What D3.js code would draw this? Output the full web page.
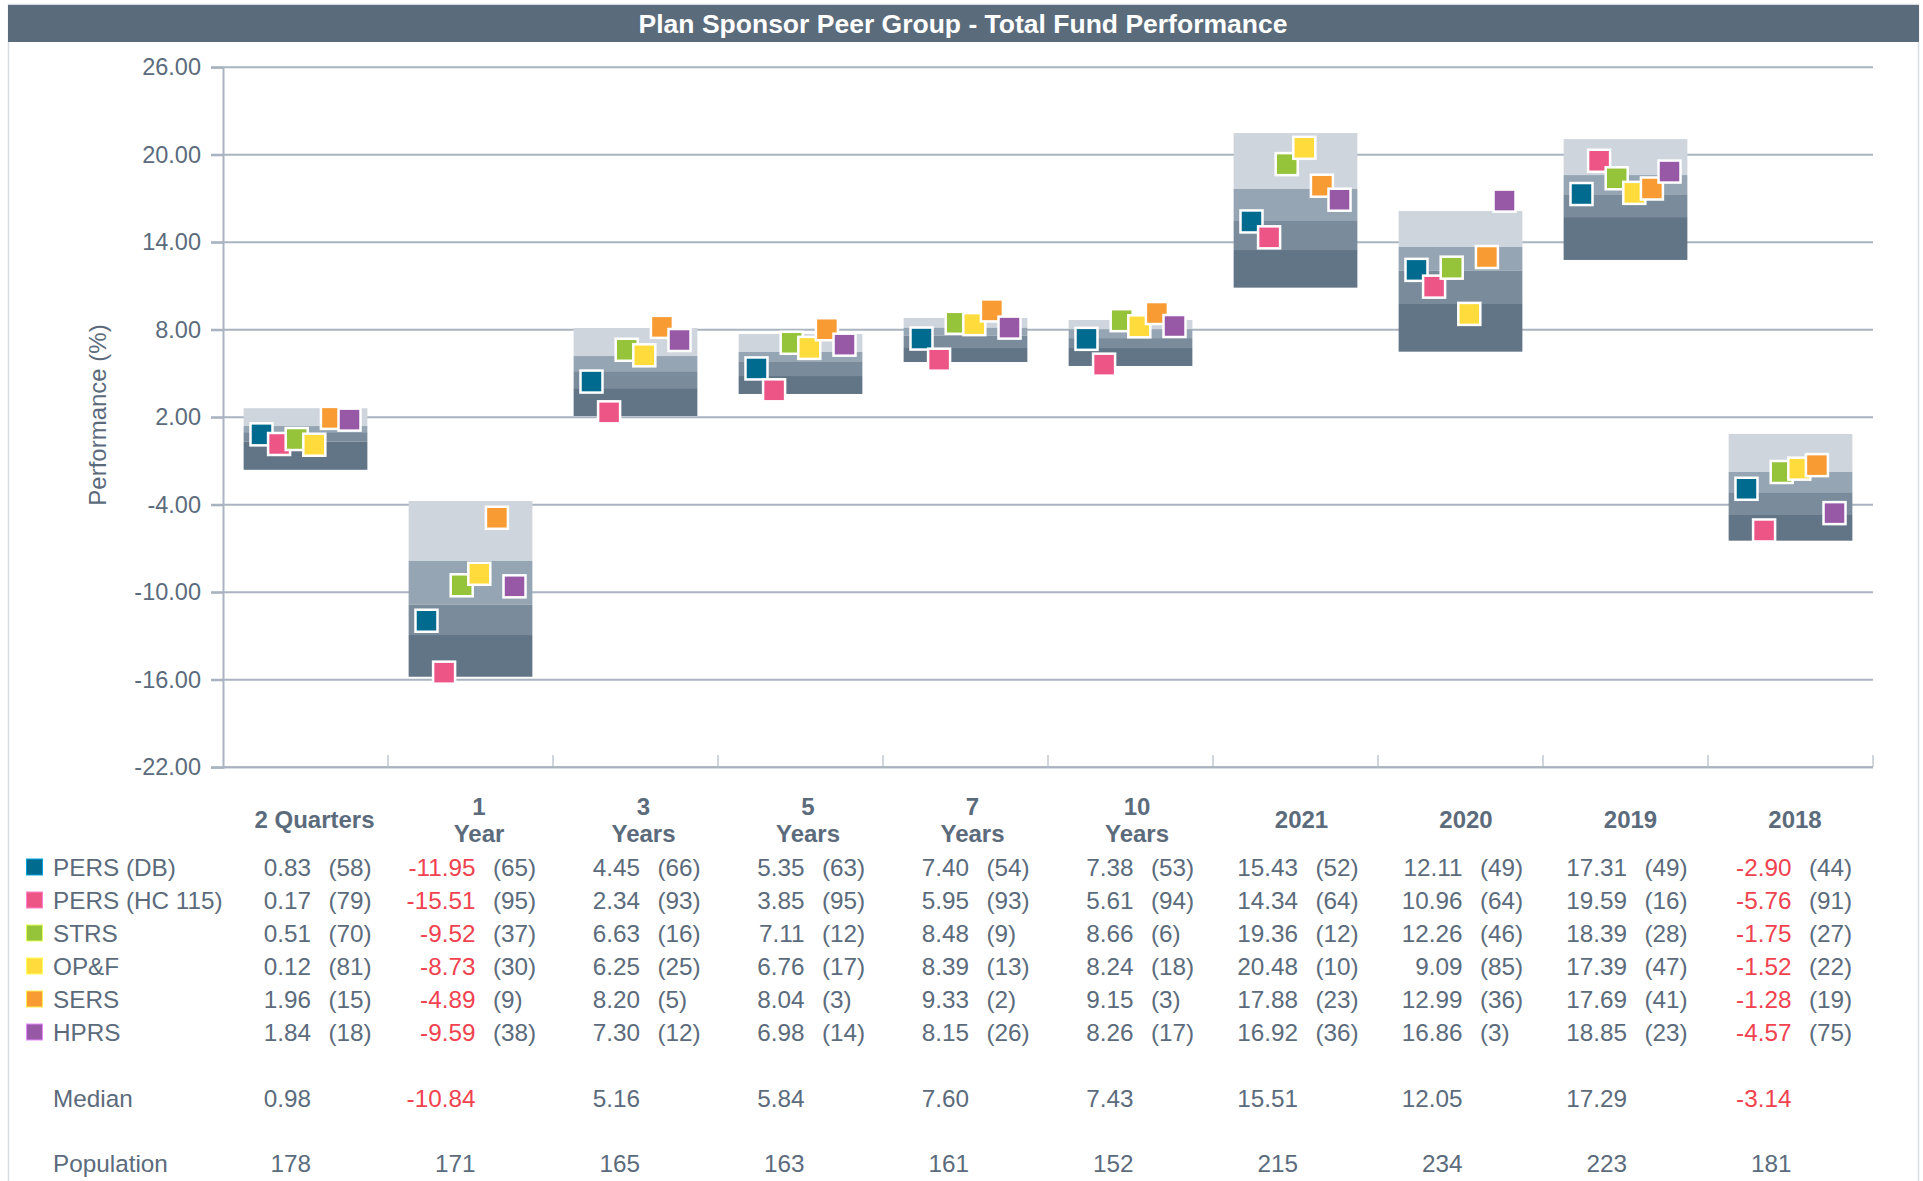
<!DOCTYPE html>
<html>
<head>
<meta charset="utf-8">
<script src="https://cdn.jsdelivr.net/npm/d3@7"></script>
<style>
  body { margin:0; background:#ffffff; }
  svg text { font-family: "Liberation Sans", Arial, sans-serif; }
</style>
</head>
<body>
<div id="container"></div>
<script>
var w = 1923;
var h = 1181;

// Data =====================================================
var categories = ["2 Quarters","1 Year","3 Years","5 Years","7 Years","10 Years","2021","2020","2019","2018"];
var headerLines = [["2 Quarters"],["1","Year"],["3","Years"],["5","Years"],["7","Years"],["10","Years"],["2021"],["2020"],["2019"],["2018"]];

// peer group percentiles (5th, 25th, median, 75th, 95th)
var p05 = [2.62, -3.74, 8.12, 7.71, 8.81, 8.67, 21.49, 16.15, 21.08, 0.86];
var p25 = [1.40, -7.85, 6.20, 6.48, 8.14, 8.03, 17.66, 13.68, 18.61, -1.75];
var median = [0.98, -10.84, 5.16, 5.84, 7.60, 7.43, 15.51, 12.05, 17.29, -3.14];
var p75 = [0.33, -12.93, 4.00, 4.83, 6.75, 6.75, 13.47, 9.77, 15.73, -4.70];
var p95 = [-1.60, -15.79, 2.09, 3.60, 5.79, 5.52, 10.89, 6.50, 12.79, -6.46];
var population = [178, 171, 165, 163, 161, 152, 215, 234, 223, 181];

var seriesNames = ["PERS (DB)","PERS (HC 115)","STRS","OP&F","SERS","HPRS"];
var seriesColors = ["#006a8f","#ec5585","#95c43b","#ffdc3b","#f99b33","#9759a6"];

var persDb = [0.83, -11.95, 4.45, 5.35, 7.40, 7.38, 15.43, 12.11, 17.31, -2.90];
var persHc = [0.17, -15.51, 2.34, 3.85, 5.95, 5.61, 14.34, 10.96, 19.59, -5.76];
var strs   = [0.51, -9.52, 6.63, 7.11, 8.48, 8.66, 19.36, 12.26, 18.39, -1.75];
var opf    = [0.12, -8.73, 6.25, 6.76, 8.39, 8.24, 20.48, 9.09, 17.39, -1.52];
var sers   = [1.96, -4.89, 8.20, 8.04, 9.33, 9.15, 17.88, 12.99, 17.69, -1.28];
var hprs   = [1.84, -9.59, 7.30, 6.98, 8.15, 8.26, 16.92, 16.86, 18.85, -4.57];

var rankDb = [58, 65, 66, 63, 54, 53, 52, 49, 49, 44];
var rankHc = [79, 95, 93, 95, 93, 94, 64, 64, 16, 91];
var rankStrs = [70, 37, 16, 12, 9, 6, 12, 46, 28, 27];
var rankOpf = [81, 30, 25, 17, 13, 18, 10, 85, 47, 22];
var rankSers = [15, 9, 5, 3, 2, 3, 23, 36, 41, 19];
var rankHprs = [18, 38, 12, 14, 26, 17, 36, 3, 23, 75];

var yTicks = [-22, -16, -10, -4, 2, 8, 14, 20, 26];

var seriesValues = [persDb, persHc, strs, opf, sers, hprs];
var seriesRanks = [rankDb, rankHc, rankStrs, rankOpf, rankSers, rankHprs];
// ===========================================================

var textCol = "#5b6b7c";
var redCol = "#f0424f";
var gridCol = "#a9b4c0";

// plain hyphen instead of unicode minus
var fmt = d3.formatLocale({decimal: ".", thousands: ",", grouping: [3], currency: ["", ""], minus: "-"}).format(".2f");

var svg = d3.select("#container")
            .append("svg")
            .attr("width", w)
            .attr("height", h);

// Frame & title =============================================
svg.append("rect")
   .attr("x", 8.5).attr("y", 4.5)
   .attr("width", 1910).attr("height", 1200)
   .attr("fill", "none")
   .attr("stroke", "#d8dde3")
   .attr("stroke-width", 1.5);

svg.append("rect")
   .attr("x", 8).attr("y", 5)
   .attr("width", 1911).attr("height", 37)
   .attr("fill", "#5a6b7b");

svg.append("text")
   .attr("x", 963).attr("y", 24)
   .attr("dy", "0.35em")
   .attr("text-anchor", "middle")
   .attr("fill", "#ffffff")
   .style("font-weight", "bold")
   .style("font-size", "26.5px")
   .text("Plan Sponsor Peer Group - Total Fund Performance");
// ===========================================================

// Scales & axes =============================================
var x = d3.scaleBand().domain(categories).range([223, 1873]);
var y = d3.scaleLinear().domain([-22, 26]).range([767.3, 67.3]);

// gridlines
svg.append("g")
   .selectAll("line")
   .data(yTicks)
   .enter()
   .append("line")
   .attr("x1", 211).attr("x2", 1873)
   .attr("y1", function(d){ return y(d); })
   .attr("y2", function(d){ return y(d); })
   .attr("stroke", gridCol)
   .attr("stroke-width", 2);

var yAxis = svg.append("g")
   .attr("transform", "translate(223,0)")
   .call(d3.axisLeft(y).tickValues(yTicks).tickFormat(fmt).tickSize(12).tickPadding(10));
yAxis.select(".domain").attr("stroke", gridCol).attr("stroke-width", 2);
yAxis.selectAll(".tick line").attr("stroke", gridCol).attr("stroke-width", 2);
yAxis.selectAll("text")
     .attr("fill", textCol)
     .style("font-size", "23.5px")
     .style("font-family", "'Liberation Sans', Arial, sans-serif");

// x axis line with inner ticks at band edges
var bandEdges = categories.slice(1).map(function(c){ return x(c); }).concat([x.range()[1]]);
svg.append("g")
   .selectAll("line")
   .data(bandEdges)
   .enter()
   .append("line")
   .attr("x1", function(d){ return d; })
   .attr("x2", function(d){ return d; })
   .attr("y1", 755).attr("y2", 767)
   .attr("stroke", "#d0d6dc")
   .attr("stroke-width", 2);

svg.append("line")
   .attr("x1", 223).attr("x2", 1873)
   .attr("y1", 767.3).attr("y2", 767.3)
   .attr("stroke", gridCol)
   .attr("stroke-width", 2);

svg.append("text")
   .attr("transform", "translate(98,415) rotate(-90)")
   .attr("dy", "0.35em")
   .attr("text-anchor", "middle")
   .attr("fill", textCol)
   .style("font-size", "24px")
   .text("Performance (%)");
// ===========================================================

// Floating bars =============================================
var boxW = x.bandwidth() * 0.75;
var bands = [
  {hi: p05, lo: p25, color: "#ced5dd"},
  {hi: p25, lo: median, color: "#95a5b3"},
  {hi: median, lo: p75, color: "#7a8c9c"},
  {hi: p75, lo: p95, color: "#627587"}
];

bands.forEach(function(b){
  svg.append("g")
     .selectAll("rect")
     .data(categories)
     .enter()
     .append("rect")
     .attr("x", function(d){ return x(d) + (x.bandwidth() - boxW) / 2; })
     .attr("width", boxW)
     .attr("y", function(d, i){ return y(b.hi[i]); })
     .attr("height", function(d, i){ return y(b.lo[i]) - y(b.hi[i]); })
     .attr("fill", b.color);
});
// ===========================================================

// Markers ===================================================
var mSize = 22;
var mStep = x.bandwidth() * 0.1067;
seriesValues.forEach(function(vals, s){
  svg.append("g")
     .selectAll("rect")
     .data(categories)
     .enter()
     .append("rect")
     .attr("x", function(d){ return x(d) + x.bandwidth() / 2 + (s - 2.5) * mStep - mSize / 2; })
     .attr("y", function(d, i){ return y(vals[i]) - mSize / 2; })
     .attr("width", mSize)
     .attr("height", mSize)
     .attr("fill", seriesColors[s])
     .attr("stroke", "#ffffff")
     .attr("stroke-width", 2.5);
});
// ===========================================================

// Table =====================================================
var col = d3.scaleLinear().domain([0, 9]).range([311, 1791.5]);
var rowY = d3.scaleLinear().domain([0, 1]).range([867, 900]);
var table = svg.append("g").style("font-size", "24.3px");

// column headers
headerLines.forEach(function(lines, i){
  lines.forEach(function(t, k){
    table.append("text")
         .attr("x", col(i) + 3.5)
         .attr("y", lines.length == 1 ? 820 : 806.7 + k * 27.3)
         .attr("dy", "0.35em")
         .attr("text-anchor", "middle")
         .attr("fill", textCol)
         .style("font-weight", "bold")
         .style("font-size", "24px")
         .text(t);
  });
});

// series rows
seriesNames.forEach(function(name, s){
  var yy = rowY(s);
  table.append("rect")
       .attr("x", 26.5).attr("y", yy - 8)
       .attr("width", 16).attr("height", 16)
       .attr("fill", seriesColors[s])
       .attr("stroke", d3.color(seriesColors[s]).brighter(1.2))
       .attr("stroke-width", 1);
  table.append("text")
       .attr("x", 53).attr("y", yy).attr("dy", "0.35em")
       .attr("fill", textCol)
       .text(name);
  seriesValues[s].forEach(function(v, i){
    table.append("text")
         .attr("x", col(i)).attr("y", yy).attr("dy", "0.35em")
         .attr("text-anchor", "end")
         .attr("fill", v < 0 ? redCol : textCol)
         .text(fmt(v));
    table.append("text")
         .attr("x", col(i) + 17.5).attr("y", yy).attr("dy", "0.35em")
         .attr("fill", textCol)
         .text("(" + seriesRanks[s][i] + ")");
  });
});

// median & population
table.append("text").attr("x", 53).attr("y", 1098).attr("dy", "0.35em")
     .attr("fill", textCol).text("Median");
table.append("text").attr("x", 53).attr("y", 1163).attr("dy", "0.35em")
     .attr("fill", textCol).text("Population");

median.forEach(function(v, i){
  table.append("text")
       .attr("x", col(i)).attr("y", 1098).attr("dy", "0.35em")
       .attr("text-anchor", "end")
       .attr("fill", v < 0 ? redCol : textCol)
       .text(fmt(v));
});
population.forEach(function(v, i){
  table.append("text")
       .attr("x", col(i)).attr("y", 1163).attr("dy", "0.35em")
       .attr("text-anchor", "end")
       .attr("fill", textCol)
       .text(v);
});
// ===========================================================
</script>
</body>
</html>
